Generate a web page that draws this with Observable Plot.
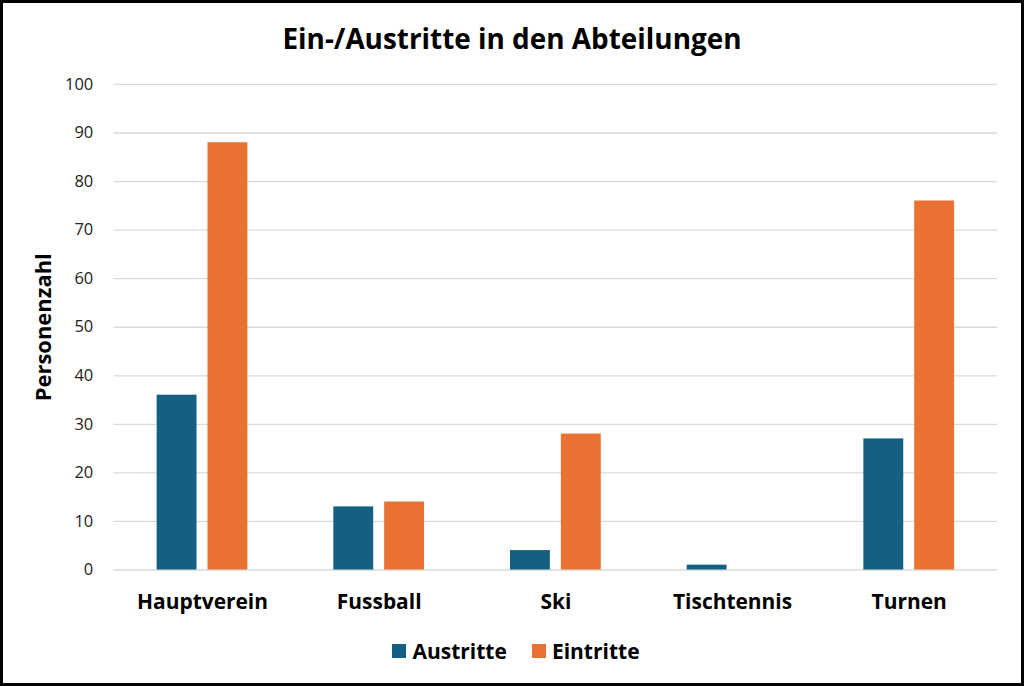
<!DOCTYPE html>
<html><head><meta charset="utf-8">
<script src="https://cdn.jsdelivr.net/npm/d3@7"></script>
<script src="https://cdn.jsdelivr.net/npm/@observablehq/plot@0.6"></script>
<style>
html,body{margin:0;padding:0;background:#fff;}
#frame{width:1024px;height:686px;box-sizing:border-box;border:3px solid #000;position:relative;overflow:hidden;font-family:"Open Sans",sans-serif;}
#title{position:absolute;top:16px;left:0;width:100%;text-align:center;font-weight:bold;font-size:27.9px;color:#000;}
#chart{position:absolute;top:64px;left:-3px;line-height:0;}
#legend{position:absolute;top:634px;left:4px;width:100%;display:flex;justify-content:center;gap:25px;font-weight:bold;font-size:21px;color:#000;}
.item{display:flex;align-items:center;gap:6px;}
.sw{width:14px;height:14px;display:inline-block;}
</style></head>
<body><div id="frame"><div id="title">Ein-/Austritte in den Abteilungen</div><div id="chart"></div><div id="legend"></div></div>
<script>
const categories = ["Hauptverein","Fussball","Ski","Tischtennis","Turnen"];
const austritte = [36,13,4,1,27];
const eintritte = [88,14,28,0,76];
const seriesNames = ["Austritte","Eintritte"];
const colors = ["#156082","#E97132"];
const yTicks = [0,10,20,30,40,50,60,70,80,90,100];

const dataA = categories.map((c,i)=>({cat:c, value:austritte[i], series:"Austritte"}));
const dataE = categories.map((c,i)=>({cat:c, value:eintritte[i], series:"Eintritte"}));

const plot = Plot.plot({
  width: 1024,
  height: 552,
  marginLeft: 114,
  marginRight: 24,
  marginTop: 17,
  marginBottom: 48,
  style: {fontFamily: "'Open Sans', sans-serif", background: "transparent"},
  x: {domain: categories, paddingInner: 1 - 40/177.2, paddingOuter: (1 - 40/177.2)/2, round: false, label: null},
  y: {domain: [0,100], ticks: yTicks, label: null},
  color: {domain: seriesNames, range: colors},
  marks: [
    Plot.ruleY(yTicks, {stroke: "#d9d9d9", strokeWidth: 1.3}),
    Plot.barY(dataA, {x: "cat", y: "value", fill: "series", dx: -25.5}),
    Plot.barY(dataE, {x: "cat", y: "value", fill: "series", dx: 25.5}),
    Plot.axisY({ticks: yTicks, tickSize: 0, tickPadding: 21, fontSize: 16.5, fill: "#222", label: null}),
    Plot.axisX({tickSize: 0, tickPadding: 24, fontSize: 21, fontWeight: "bold", fill: "#000", label: null}),
    Plot.text(["Personenzahl"], {frameAnchor: "left", textAnchor: "middle", dx: -70, rotate: -90, fontSize: 22, fontWeight: "bold", fill: "#000"})
  ]
});
document.getElementById("chart").appendChild(plot);

const leg = document.getElementById("legend");
seriesNames.forEach((s,i)=>{
  const it = document.createElement("div"); it.className="item";
  const sw = document.createElement("span"); sw.className="sw"; sw.style.background = colors[i];
  const t = document.createElement("span"); t.textContent = s;
  it.appendChild(sw); it.appendChild(t); leg.appendChild(it);
});
</script></body></html>
